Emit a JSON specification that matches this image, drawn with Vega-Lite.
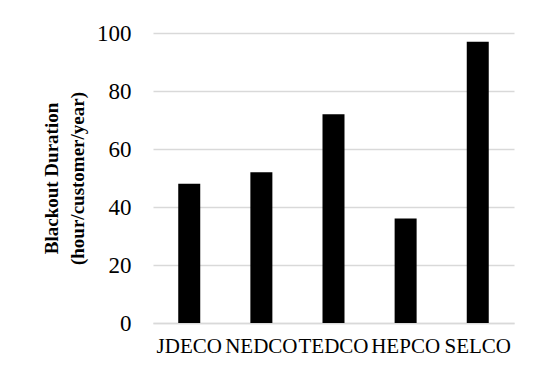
{
  "$schema": "https://vega.github.io/schema/vega-lite/v6.json",
  "width": 361,
  "height": 290,
  "autosize": {"type": "none"},
  "padding": {"left": 153, "top": 33, "right": 36, "bottom": 59},
  "background": "white",
  "data": {"values": [
    {"company": "JDECO", "duration": 48},
    {"company": "NEDCO", "duration": 52},
    {"company": "TEDCO", "duration": 72},
    {"company": "HEPCO", "duration": 36},
    {"company": "SELCO", "duration": 97}
  ]},
  "mark": {"type": "bar", "color": "black"},
  "encoding": {
    "x": {
      "field": "company", "type": "nominal", "sort": null,
      "scale": {"paddingInner": 0.695, "paddingOuter": 0.35},
      "axis": {"title": null, "labelAngle": 0, "labelFont": "Liberation Serif", "labelFontSize": 21, "labelColor": "black", "ticks": false, "domainColor": "#d9d9d9", "domainWidth": 1.5, "labelPadding": 12}
    },
    "y": {
      "field": "duration", "type": "quantitative",
      "scale": {"domain": [0, 100]},
      "axis": {"values": [0, 20, 40, 60, 80, 100], "title": ["Blackout Duration", "(hour/customer/year)"], "titleFont": "Liberation Serif", "titleFontSize": 19, "titleFontWeight": "bold", "titleColor": "black", "titleLineHeight": 26, "titlePadding": 9, "labelFont": "Liberation Serif", "labelFontSize": 23, "labelColor": "black", "ticks": false, "domain": false, "labelPadding": 22, "gridColor": "#d9d9d9", "gridWidth": 1.5}
    }
  },
  "config": {"view": {"stroke": null}}
}
